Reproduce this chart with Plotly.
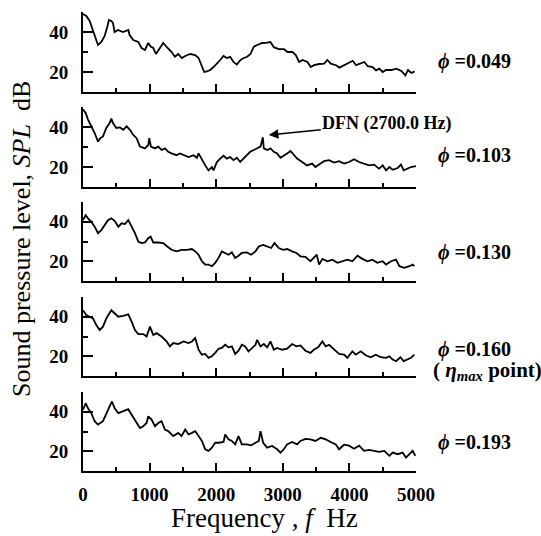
import plotly.graph_objects as go

# ---------------- data ----------------
freq_1 = [0, 50, 100, 150, 200, 225, 275, 325, 360, 390, 425, 450, 475, 525, 600, 680, 700, 755, 830, 880,
          930, 980, 1015, 1055, 1095, 1155, 1205, 1270, 1330, 1380, 1430, 1485, 1535, 1610, 1685, 1735, 1785,
          1820, 1860, 1910, 1960, 2010, 2060, 2110, 2160, 2210, 2260, 2310, 2365, 2415, 2465, 2515, 2565, 2615,
          2690, 2765, 2815, 2865, 2940, 3020, 3070, 3145, 3195, 3245, 3295, 3370, 3420, 3470, 3545, 3620, 3670,
          3720, 3800, 3850, 3925, 4000, 4050, 4100, 4175, 4225, 4275, 4350, 4400, 4450, 4500, 4550, 4630, 4705,
          4780, 4840, 4880, 4930, 4980]
spl_1 = [49, 48, 45.5, 41, 36, 33.5, 35, 38, 42, 46, 45.5, 44.5, 40, 41, 40, 41, 38.5, 36, 35, 32,
         31, 34.5, 32.7, 32, 29, 32, 34.5, 32, 30, 27.6, 29, 27, 28, 29, 28.5, 27, 23.4,
         20, 20.3, 21, 22.5, 24, 26, 28, 27, 27.6, 25, 23.7, 26, 27, 27.6, 29, 32.7, 33.5,
         34.5, 34.7, 35, 32.4, 31.4, 31.4, 30, 30, 28.5, 25, 26, 25, 22.5, 23.4, 24, 24.2, 26,
         24.2, 23.4, 22.2, 23.4, 24.6, 25.6, 23.4, 24.6, 25, 22.9, 22.5, 20.8, 21.7, 20, 21, 21, 21.7,
         20.5, 18.3, 21, 19.5, 20.3]

freq_2 = [0, 40, 75, 125, 175, 225, 260, 300, 350, 400, 425, 450, 500, 555, 605, 655, 705, 755, 805, 855,
          930, 980, 995, 1020, 1080, 1130, 1180, 1230, 1280, 1330, 1405, 1455, 1510, 1585, 1660, 1710, 1735,
          1785, 1835, 1885, 1935, 1960, 2010, 2060, 2110, 2160, 2210, 2260, 2310, 2360, 2410, 2460, 2510, 2565,
          2615, 2665, 2700, 2715, 2765, 2815, 2865, 2915, 2965, 3015, 3065, 3115, 3165, 3215, 3290, 3365, 3440,
          3490, 3545, 3620, 3695, 3770, 3845, 3920, 3995, 4070, 4145, 4220, 4295, 4370, 4445, 4500, 4550, 4600,
          4650, 4725, 4775, 4815, 4875, 4925, 4975, 5000]
spl_2 = [48.8, 47, 43.7, 40.3, 37, 32.7, 34.4, 35.3, 39.5, 42, 44.2, 42, 39.5, 39.8, 38.6, 40.3, 38.6, 36, 34.4, 30.2,
         29.3, 31, 34.4, 30.2, 29.3, 30.2, 28.5, 29.3, 27.6, 26.8, 25.9, 26.8, 25.9, 25, 25.9, 24.6, 26.8,
         23.4, 20.8, 18.3, 20, 18.3, 22.5, 24.2, 25.6, 24.2, 25, 23.4, 24.6, 22.5, 24.2, 25.9, 27.6, 28.5,
         29.3, 30.2, 34.8, 29.3, 28.5, 29.3, 27.6, 26.8, 24.6, 25.9, 26.8, 28, 25.9, 24.2, 22.5, 20.8, 21.7,
         20, 21.2, 22.9, 23.4, 22.2, 22.9, 21.7, 22.5, 23.9, 22.5, 21.7, 20.8, 21.2, 19.2, 20.8, 18.3, 20,
         18.6, 19.5, 21.2, 18.3, 19.2, 20, 20.3, 20.5]

freq_3 = [0, 40, 75, 125, 175, 225, 275, 325, 375, 425, 475, 530, 580, 630, 680, 730, 780, 830, 880, 930,
          980, 1015, 1055, 1130, 1205, 1265, 1330, 1405, 1480, 1560, 1635, 1685, 1735, 1785, 1835, 1885, 1935,
          1985, 2035, 2085, 2135, 2185, 2235, 2285, 2335, 2385, 2460, 2525, 2590, 2640, 2705, 2765, 2825, 2875,
          2940, 3005, 3065, 3140, 3205, 3265, 3340, 3415, 3465, 3510, 3545, 3595, 3670, 3745, 3820, 3895, 3970,
          4045, 4120, 4195, 4270, 4345, 4420, 4500, 4550, 4625, 4700, 4750, 4825, 4900, 4950, 4975]
spl_3 = [40.8, 43.3, 41.7, 40, 37.5, 34.2, 35.8, 38.3, 40.8, 41.7, 40.5, 37.5, 39.2, 38.8, 40.8, 37.5, 34.2, 30, 29.2, 29.5,
         31.7, 32.5, 29.5, 29.5, 29.2, 27.5, 25.8, 25, 25.8, 25.8, 26.2, 25, 23.3, 20, 18.3, 18.3, 17.5,
         19.2, 21.7, 25, 24.2, 23.3, 24.5, 21.7, 22.8, 24.2, 24.5, 23.3, 25, 27.5, 28.3, 27.5, 26.7, 29.2,
         26.7, 25.8, 26.2, 25, 24.2, 22.5, 22.2, 20, 21.7, 23.3, 18.3, 21.2, 20, 20.8, 19.2, 20, 20.8,
         20, 22.8, 21.2, 20, 20.8, 19.2, 20, 18.3, 20, 20.8, 17.5, 16.7, 17.5, 18.3, 17.5]

freq_4 = [0, 50, 100, 150, 200, 250, 300, 350, 425, 475, 530, 605, 680, 730, 780, 830, 905, 955, 1005, 1055,
          1105, 1180, 1255, 1305, 1355, 1430, 1510, 1585, 1635, 1685, 1735, 1785, 1835, 1885, 1935, 1985, 2035,
          2085, 2135, 2185, 2235, 2285, 2335, 2385, 2435, 2485, 2540, 2590, 2615, 2665, 2715, 2765, 2815, 2865,
          2915, 2990, 3065, 3140, 3205, 3265, 3340, 3415, 3465, 3530, 3595, 3645, 3695, 3770, 3845, 3920, 3970,
          4045, 4095, 4170, 4245, 4320, 4395, 4470, 4550, 4600, 4650, 4700, 4765, 4815, 4875, 4925, 4975]
spl_4 = [43.3, 40.8, 40, 39.2, 35.8, 33.3, 35, 39.2, 43.3, 41.7, 40, 40.5, 41.2, 37.5, 33.3, 31.2, 31.2, 30, 35, 30.8,
         31.7, 30, 27.5, 25, 26.7, 26.2, 27.5, 26.7, 27.5, 29.2, 23.3, 20.8, 21.2, 19.2, 20, 21.7, 23.8,
         24.2, 25.8, 24.5, 25, 21.2, 22.8, 25.8, 25, 22.5, 24.5, 25.8, 28.3, 25, 26.2, 24.5, 27.5, 23.3,
         24.2, 23.3, 23.8, 26.2, 25, 25.5, 22.8, 21.7, 23.3, 24.5, 27.5, 25, 25.8, 23.3, 21.2, 20.8, 19.2,
         22.5, 20.8, 22.5, 20.5, 19.5, 20.8, 19.5, 19.2, 20, 18.3, 17.5, 19.5, 17.5, 18.3, 19.2, 20.8]

freq_5 = [0, 40, 75, 125, 175, 225, 300, 350, 400, 435, 475, 530, 605, 680, 730, 780, 855, 905, 955, 980,
          1030, 1080, 1130, 1180, 1230, 1280, 1355, 1430, 1480, 1535, 1585, 1635, 1685, 1735, 1785, 1835, 1885,
          1935, 1985, 2035, 2110, 2135, 2185, 2235, 2285, 2335, 2385, 2460, 2525, 2590, 2640, 2665, 2705, 2765,
          2840, 2915, 2965, 3015, 3065, 3140, 3215, 3265, 3340, 3415, 3490, 3570, 3645, 3720, 3795, 3845, 3920,
          3995, 4070, 4145, 4220, 4295, 4370, 4445, 4525, 4600, 4650, 4725, 4800, 4850, 4900, 4950, 4990]
spl_5 = [41, 44.3, 41.8, 39.3, 35.2, 33.5, 35.2, 39.3, 42.7, 45.2, 41.8, 39.3, 40.2, 41.3, 38.5, 36, 31.8, 32.7, 34.3, 37.7,
         36, 32.7, 34.3, 35.2, 31, 30.2, 27.7, 29.3, 27.7, 31, 28.5, 29.3, 30.2, 27.7, 25.2, 21, 20.2,
         21.8, 24.3, 24.3, 24.7, 28.5, 26, 25.2, 23.5, 27.7, 23.5, 23.5, 23, 24.3, 25.2, 30.2, 24.3, 21.8,
         22.7, 21, 19.3, 21, 23.5, 24.7, 23.5, 25.2, 26.3, 26, 25.2, 26.8, 26, 24.7, 23.5, 21, 23.3,
         22.8, 21.3, 22.8, 20.2, 20.7, 20.2, 19.7, 20.2, 17.7, 19.3, 18.5, 19.3, 16.8, 18.5, 20.2, 17.7]

phi_labels = ["0.049", "0.103", "0.130", "0.160", "0.193"]
x_tickvals = [0, 1000, 2000, 3000, 4000, 5000]
y_tickvals = [20, 40]

series = [(freq_1, spl_1), (freq_2, spl_2), (freq_3, spl_3), (freq_4, spl_4), (freq_5, spl_5)]

# ---------------- layout geometry ----------------
W, H = 541, 536
x0_px, x1_px = 83, 416
tops = [12, 107, 202, 297, 392]
bots = [92, 187, 281, 376, 471]

FONT = "Liberation Serif"

fig = go.Figure()
layout = dict(
    width=W, height=H, autosize=False,
    margin=dict(l=0, r=0, t=0, b=0, pad=0),
    paper_bgcolor="white", plot_bgcolor="white",
    showlegend=False,
    font=dict(family=FONT, color="black"),
    template="none",
)

for i, (fx, sy) in enumerate(series):
    n = i + 1
    xa = "x" if n == 1 else f"x{n}"
    ya = "y" if n == 1 else f"y{n}"
    fig.add_trace(go.Scatter(x=fx, y=sy, xaxis=xa, yaxis=ya, mode="lines",
                             line=dict(color="black", width=1.8), hoverinfo="skip"))
    xkey = "xaxis" if n == 1 else f"xaxis{n}"
    ykey = "yaxis" if n == 1 else f"yaxis{n}"
    layout[xkey] = dict(
        domain=[x0_px / W, x1_px / W], anchor=ya, range=[0, 5000], automargin=False,
        showline=True, linecolor="black", linewidth=2, mirror=False,
        showgrid=False, zeroline=False,
        ticks="inside", tickvals=x_tickvals, ticklen=8, tickwidth=2, tickcolor="black",
        minor=dict(tickvals=[500, 1500, 2500, 3500, 4500], ticks="inside", ticklen=4,
                   tickwidth=2, tickcolor="black"),
        showticklabels=(n == 5),
        tickfont=dict(family=FONT, size=19, color="black", weight="bold"),
        ticklabelstandoff=5,
    )
    layout[ykey] = dict(
        domain=[(H - bots[i]) / H, (H - tops[i]) / H], anchor=xa, range=[10, 50], automargin=False,
        showline=True, linecolor="black", linewidth=2,
        showgrid=False, zeroline=False,
        ticks="inside", tickvals=y_tickvals, ticklen=10, tickwidth=2, tickcolor="black",
        minor=dict(tickvals=[30, 50], ticks="inside", ticklen=5, tickwidth=2, tickcolor="black"),
        tickfont=dict(family=FONT, size=19, color="black", weight="bold"),
        ticklabelstandoff=9,
    )

fig.update_layout(**layout)

# phi labels
label_y = [62, 155, 253, 349, 442]
annotations = []
for lab, yy in zip(phi_labels, label_y):
    annotations.append(dict(
        xref="paper", yref="paper", x=436 / W, y=(H - yy) / H,
        xanchor="left", yanchor="middle", showarrow=False,
        text=f"<i>ϕ</i> =" + lab,
        font=dict(family=FONT, size=20, color="black", weight="bold"),
    ))
annotations.append(dict(
    xref="paper", yref="paper", x=431 / W, y=(H - 371) / H,
    xanchor="left", yanchor="middle", showarrow=False,
    text="( <i>η</i><sub><i>max</i></sub> point)",
    font=dict(family=FONT, size=21, color="black", weight="bold"),
))
# DFN annotation with arrow pointing to the 2700 Hz peak
annotations.append(dict(
    xref="x2", yref="y2", x=2790, y=36,
    text="DFN (2700.0 Hz)",
    font=dict(family=FONT, size=18, color="black", weight="bold"),
    showarrow=True, arrowhead=2, arrowsize=1.2, arrowwidth=1.6, arrowcolor="black",
    ax=118, ay=-12, standoff=0,
))
# axis titles
annotations.append(dict(
    xref="paper", yref="paper", x=21 / W, y=(H - 239) / H,
    xanchor="center", yanchor="middle", showarrow=False, textangle=-90,
    text="Sound pressure level, <i>SPL</i>  dB",
    font=dict(family=FONT, size=26, color="black"),
))
annotations.append(dict(
    xref="paper", yref="paper", x=264 / W, y=(H - 518) / H,
    xanchor="center", yanchor="middle", showarrow=False,
    text="Frequency , <i>f</i>  Hz",
    font=dict(family=FONT, size=27, color="black"),
))
fig.update_layout(annotations=annotations)

fig.write_html("out.html", config={"responsive": False, "displayModeBar": False})
